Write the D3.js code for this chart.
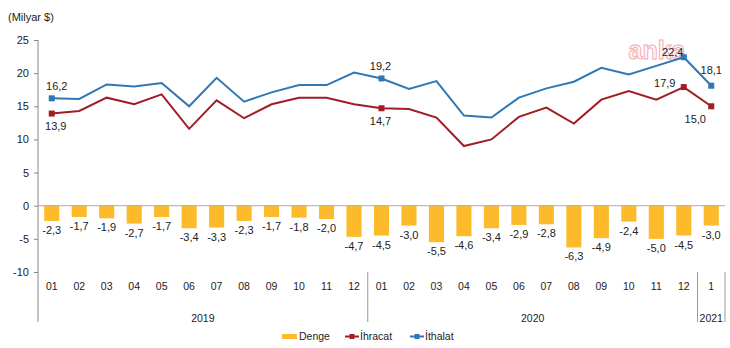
<!DOCTYPE html>
<html><head><meta charset="utf-8">
<script src="https://cdn.jsdelivr.net/npm/d3@7"></script>
<style>body{margin:0;background:#fff;} svg{display:block;font-family:"Liberation Sans",Arial,sans-serif;}</style>
</head><body>
<svg id="c" width="730" height="348"></svg>
<script>
const months = ["01","02","03","04","05","06","07","08","09","10","11","12","01","02","03","04","05","06","07","08","09","10","11","12","1"];
const years = [{label:"2019", start:0, end:12},{label:"2020", start:12, end:24},{label:"2021", start:24, end:25}];
const denge = [-2.3,-1.7,-1.9,-2.7,-1.7,-3.4,-3.3,-2.3,-1.7,-1.8,-2.0,-4.7,-4.5,-3.0,-5.5,-4.6,-3.4,-2.9,-2.8,-6.3,-4.9,-2.4,-5.0,-4.5,-3.0];
const ihracat = [13.9,14.3,16.3,15.3,16.8,11.6,15.9,13.2,15.3,16.3,16.3,15.3,14.7,14.6,13.3,9.0,10.0,13.4,14.8,12.4,16.0,17.3,16.0,17.9,15.0];
const ithalat = [16.2,16.1,18.3,18.0,18.5,15.0,19.3,15.7,17.1,18.2,18.2,20.1,19.2,17.6,18.8,13.6,13.3,16.3,17.7,18.7,20.8,19.8,21.1,22.4,18.1];
const yTicks = [25,20,15,10,5,0,-5,-10];
const labeledIdx = [0,12,23,24];

(function(){
const svg = d3.select("#c");
const pL = 38, pR = 725, pT = 40, pB = 272;
const idx = d3.range(months.length);
const x = d3.scaleBand().domain(idx).range([pL, pR]).paddingInner(0.45).paddingOuter(0.225);
const step = x.step();
const cx = i => pL + step*(i+0.5);
const y = d3.scaleLinear().domain([-10,25]).range([pB, pT]);
const fmt = v => d3.format(".1f")(v).replace(".", ",").replace("−", "-");

const blue = "#2F77B5", red = "#A11D25", yellow = "#FDBB2C";

// watermark
svg.append("text").attr("x", 657).attr("y", 59).attr("text-anchor","middle")
  .attr("font-size", 25).attr("font-weight","bold").attr("fill","#fff6f6")
  .attr("stroke","#f2a9ad").attr("stroke-width",0.9).text("anka");

// unit label
svg.append("text").attr("x", 8).attr("y", 21).attr("font-size", 11).attr("fill","#222").text("(Milyar $)");

// y axis
const yAxis = svg.append("g").attr("transform", `translate(${pL},0)`)
  .call(d3.axisLeft(y).tickValues(yTicks).tickSize(4).tickPadding(5).tickFormat(d=>d));
yAxis.select(".domain").remove();
yAxis.selectAll("line").attr("stroke","#888");
yAxis.selectAll("text").attr("font-size", 11).attr("fill","#222").attr("font-family","Liberation Sans, Arial, sans-serif");
svg.append("line").attr("x1",pL).attr("x2",pL).attr("y1",pT).attr("y2",322).attr("stroke","#888");

// bars
svg.append("g").selectAll("rect").data(denge).join("rect")
  .attr("x",(d,i)=>x(i)).attr("width",x.bandwidth())
  .attr("y", y(0)).attr("height", d=>y(d)-y(0)).attr("fill", yellow);

// zero line
svg.append("line").attr("x1",pL).attr("x2",pR).attr("y1",y(0)).attr("y2",y(0)).attr("stroke","#aaa").attr("stroke-width",1);

// bar labels
svg.append("g").selectAll("text").data(denge).join("text")
  .attr("x",(d,i)=>cx(i)).attr("y", d=>y(d)+13).attr("text-anchor","middle")
  .attr("font-size", 11).attr("fill","#222").text(d=>fmt(d));

// lines
const line = d3.line().x((d,i)=>cx(i)).y(d=>y(d));
svg.append("path").datum(ithalat).attr("d", line).attr("fill","none").attr("stroke",blue).attr("stroke-width",2);
svg.append("path").datum(ihracat).attr("d", line).attr("fill","none").attr("stroke",red).attr("stroke-width",2);

// markers
[[ithalat,blue],[ihracat,red]].forEach(([arr,col])=>{
  svg.append("g").selectAll("rect").data(labeledIdx).join("rect")
    .attr("x", i=>cx(i)-3).attr("y", i=>y(arr[i])-3).attr("width",6).attr("height",6).attr("fill",col);
});

// point labels
const pl = [
  {s:ithalat,i:0,dx:5,dy:-12},{s:ithalat,i:12,dx:-1,dy:-12},{s:ithalat,i:23,dx:-11,dy:-5},{s:ithalat,i:24,dx:0,dy:-16},
  {s:ihracat,i:0,dx:4,dy:12},{s:ihracat,i:12,dx:-1,dy:13},{s:ihracat,i:23,dx:-19,dy:-4},{s:ihracat,i:24,dx:-16,dy:13}
];
svg.append("g").selectAll("text").data(pl).join("text")
  .attr("x", d=>cx(d.i)+d.dx).attr("y", d=>y(d.s[d.i])+d.dy+4).attr("text-anchor","middle")
  .attr("font-size", 11).attr("fill","#222").text(d=>fmt(d.s[d.i]));

// category labels
svg.append("g").selectAll("text").data(months).join("text")
  .attr("x",(d,i)=>cx(i)).attr("y", 290).attr("text-anchor","middle")
  .attr("font-size", 10.5).attr("fill","#222").text(d=>d);

// year separators & labels
years.forEach(yr=>{
  svg.append("line").attr("x1", pL+step*yr.end).attr("x2", pL+step*yr.end)
    .attr("y1", pB).attr("y2", 322).attr("stroke","#999");
  svg.append("text").attr("x", pL+step*(yr.start+yr.end)/2).attr("y", 322)
    .attr("text-anchor","middle").attr("font-size",10.5).attr("fill","#222").text(yr.label);
});

// legend
const lg = svg.append("g").attr("font-size", 10.5).attr("fill","#222");
lg.append("rect").attr("x",282).attr("y",334).attr("width",15).attr("height",5).attr("fill",yellow);
lg.append("text").attr("x",299).attr("y",340).text("Denge");
[[345,360,red,"İhracat"],[410,425,blue,"İthalat"]].forEach(([x0,tx,col,lab])=>{
  lg.append("line").attr("x1",x0).attr("x2",x0+14).attr("y1",336.5).attr("y2",336.5).attr("stroke",col).attr("stroke-width",2);
  lg.append("rect").attr("x",x0+4.5).attr("y",334).attr("width",5).attr("height",5).attr("fill",col);
  lg.append("text").attr("x",tx).attr("y",340).text(lab);
});
})();
</script>
</body></html>
